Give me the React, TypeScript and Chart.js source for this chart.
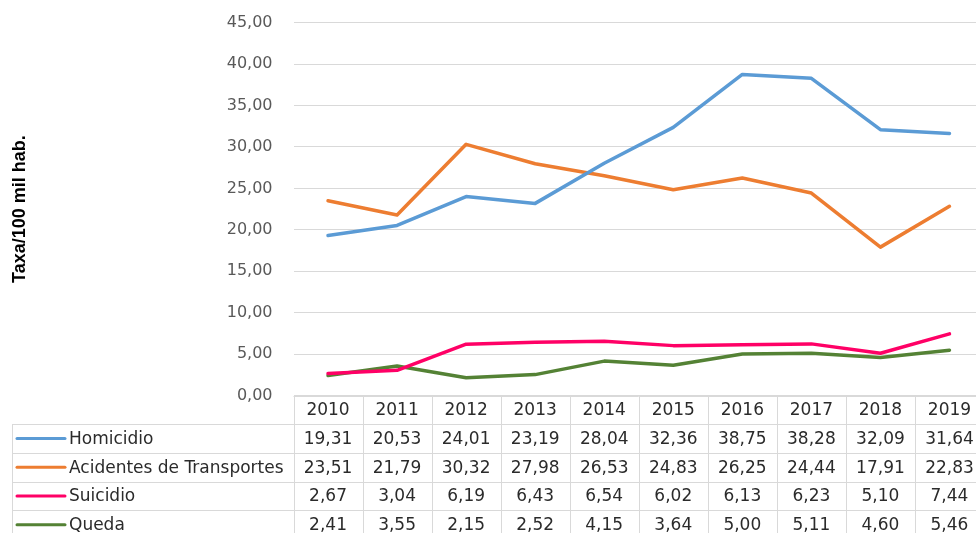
import React, { useEffect, useRef } from "react";
import { Chart, registerables } from "chart.js";

Chart.register(...registerables);

const years = ["2010", "2011", "2012", "2013", "2014", "2015", "2016", "2017", "2018", "2019"];
const homicidio = [19.31, 20.53, 24.01, 23.19, 28.04, 32.36, 38.75, 38.28, 32.09, 31.64];
const acidentes = [23.51, 21.79, 30.32, 27.98, 26.53, 24.83, 26.25, 24.44, 17.91, 22.83];
const suicidio = [2.67, 3.04, 6.19, 6.43, 6.54, 6.02, 6.13, 6.23, 5.1, 7.44];
const queda = [2.41, 3.55, 2.15, 2.52, 4.15, 3.64, 5.0, 5.11, 4.6, 5.46];
const seriesNames = ["Homicidio", "Acidentes de Transportes", "Suicidio", "Queda"];
const seriesColors = ["#5B9BD5", "#ED7D31", "#FF0066", "#548235"];
const yTitle = "Taxa/100 mil hab.";

const fmt = (v: number) => v.toFixed(2).replace(".", ",");

const FONT = "'DejaVu Sans', Verdana, sans-serif";

const tablePlugin = {
  id: "dataTable",
  afterDraw(chart: any) {
    const ctx = chart.ctx as CanvasRenderingContext2D;
    const x = chart.scales.x;
    const area = chart.chartArea;
    const n = years.length;
    const step = x.getPixelForValue(1) - x.getPixelForValue(0);
    const colLeft = x.getPixelForValue(0) - step / 2;
    const colRight = x.getPixelForValue(n - 1) + step / 2;
    const tableLeft = 12;
    const top = area.bottom;
    const rowH = 28.7;
    const bottom = chart.height + 20;
    const data = [homicidio, acidentes, suicidio, queda];

    ctx.save();
    ctx.strokeStyle = "#D9D9D9";
    ctx.lineWidth = 1;
    ctx.beginPath();
    ctx.moveTo(colLeft, Math.round(top) + 0.5);
    ctx.lineTo(colRight, Math.round(top) + 0.5);
    for (let r = 1; r <= 4; r++) {
      const y = Math.round(top + r * rowH) + 0.5;
      ctx.moveTo(tableLeft, y);
      ctx.lineTo(colRight, y);
    }
    ctx.moveTo(tableLeft + 0.5, Math.round(top + rowH));
    ctx.lineTo(tableLeft + 0.5, bottom);
    for (let i = 0; i <= n; i++) {
      const xx = Math.round(colLeft + i * step) + 0.5;
      ctx.moveTo(xx, Math.round(top));
      ctx.lineTo(xx, bottom);
    }
    ctx.stroke();

    ctx.font = `17px ${FONT}`;
    ctx.textBaseline = "middle";
    ctx.fillStyle = "#2B2B2B";
    ctx.textAlign = "center";
    for (let i = 0; i < n; i++) {
      const cx = x.getPixelForValue(i);
      ctx.fillText(years[i], cx, top + rowH / 2 + 1);
      for (let s = 0; s < data.length; s++) {
        ctx.fillText(fmt(data[s][i]), cx, top + rowH * (s + 1.5) + 1);
      }
    }
    ctx.textAlign = "left";
    for (let s = 0; s < seriesNames.length; s++) {
      const cy = top + rowH * (s + 1.5);
      ctx.strokeStyle = seriesColors[s];
      ctx.lineWidth = 3;
      ctx.lineCap = "round";
      ctx.beginPath();
      ctx.moveTo(17, cy);
      ctx.lineTo(65, cy);
      ctx.stroke();
      ctx.fillStyle = "#2B2B2B";
      ctx.fillText(seriesNames[s], 69, cy + 1);
    }
    ctx.restore();
  },
};

export default function App() {
  const ref = useRef<HTMLCanvasElement | null>(null);
  useEffect(() => {
    document.body.style.margin = "0";
    const canvas = ref.current!;
    const all = [homicidio, acidentes, suicidio, queda];
    const chart = new Chart(canvas, {
      type: "line",
      data: {
        labels: years,
        datasets: seriesNames.map((name, i) => ({
          label: name,
          data: all[i],
          borderColor: seriesColors[i],
          backgroundColor: seriesColors[i],
          borderWidth: 3.5,
          pointRadius: 0,
          tension: 0,
          borderCapStyle: "round" as const,
          borderJoinStyle: "round" as const,
        })),
      },
      options: {
        animation: false,
        responsive: false,
        devicePixelRatio: 1,
        layout: { padding: { left: 0, top: 22.7, right: 0, bottom: 137.5 } },
        plugins: { legend: { display: false }, tooltip: { enabled: false } },
        scales: {
          x: { display: false, offset: true },
          y: {
            min: 0,
            max: 45,
            ticks: {
              stepSize: 5,
              padding: 21,
              color: "#595959",
              font: { family: FONT, size: 16 },
              callback: (v: any) => fmt(Number(v)),
            },
            grid: { color: "#D9D9D9", drawTicks: false },
            border: { display: false },
            title: {
              display: true,
              text: yTitle,
              color: "#000000",
              font: { family: "'Liberation Sans', Arial, sans-serif", size: 18, weight: "bold" },
              padding: { top: 9, bottom: 0 },
            },
            afterFit: (scale: any) => {
              scale.width = 293.5;
              scale.paddingTop = 0;
              scale.paddingBottom = 0;
            },
          },
        },
      },
      plugins: [tablePlugin],
    });
    return () => chart.destroy();
  }, []);
  return (
    <div style={{ position: "absolute", left: 0, top: 0, width: 976, height: 533, overflow: "hidden", background: "#fff" }}>
      <canvas ref={ref} width={984} height={533} style={{ display: "block" }} />
    </div>
  );
}
